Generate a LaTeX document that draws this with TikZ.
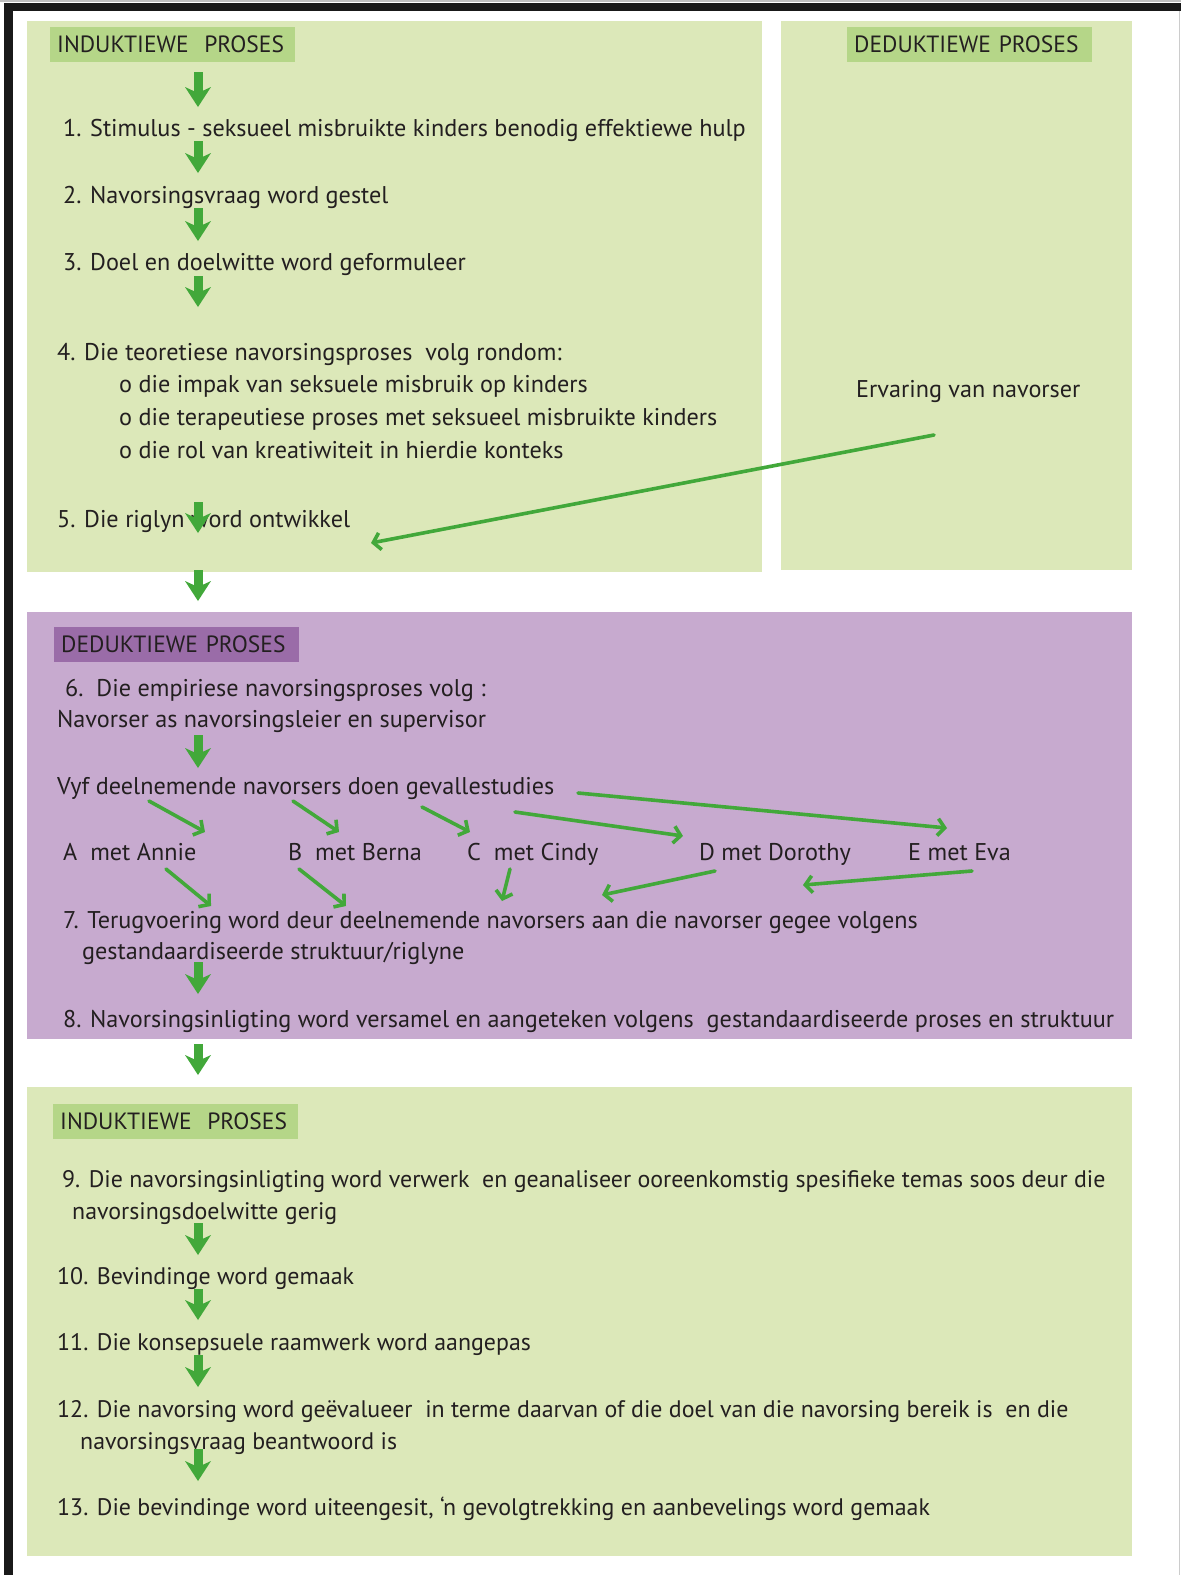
\documentclass[tikz,border=0pt]{standalone}
\usepackage{fontspec}
\setmainfont{PT Sans}
\usetikzlibrary{arrows.meta}
\definecolor{panelgreen}{HTML}{DCE8B9}
\definecolor{hdrgreen}{HTML}{B5D688}
\definecolor{panelpurple}{HTML}{C7AACF}
\definecolor{hdrpurple}{HTML}{9A6CA8}
\definecolor{arrowgreen}{HTML}{42A83A}
\definecolor{inkdark}{HTML}{231F20}
\begin{document}
\begin{tikzpicture}[x=1pt,y=-1pt,
  txt/.style={anchor=base west, inner sep=0pt, text=inkdark, font=\fontsize{24.2}{28}\selectfont},
  txtb/.style={txt, font=\fontsize{23.9}{28}\selectfont},
  hdr/.style={anchor=north west, text width=231pt, inner xsep=7pt, inner ysep=0pt,
    minimum height=35pt, align=left, text=inkdark, font=\fontsize{23.5}{27}\selectfont},
  flow/.style={draw=arrowgreen, line width=9pt,
    -{Stealth[length=20pt,width=26pt,inset=6pt,line width=0pt]}},
  link/.style={draw=arrowgreen, line width=3.6pt, line cap=round,
    -{Straight Barb[length=7pt,width=17pt]}},
]
\useasboundingbox (0,0) rectangle (1181,1575);
\fill[white] (0,0) rectangle (1181,1575);

% outer frame
\fill[black!25] (0,0) rectangle (1181,2);
\fill[black!90] (4,3) rectangle (1181,11);
\fill[black!90] (4,3) rectangle (13,1575);
\fill[black!20] (1179,11) rectangle (1180,1575);

% panels
\fill[panelgreen] (27,21) rectangle (762,572);
\fill[panelgreen] (781,21) rectangle (1132,570);
\fill[panelpurple] (27,612) rectangle (1132,1039);
\fill[panelgreen] (27,1087) rectangle (1132,1556);

% headers
\node[hdr, fill=hdrgreen] (hInd1) at (50,27) {INDUKTIEWE\ \ PROSES};
\node[hdr, fill=hdrgreen] (hDed1) at (847,27) {DEDUKTIEWE PROSES};
\node[hdr, fill=hdrpurple] (hDed2) at (54,627) {DEDUKTIEWE PROSES};
\node[hdr, fill=hdrgreen] (hInd2) at (53,1104) {INDUKTIEWE\ \ PROSES};

% inductive part, theory
\node[txt] (s1) at (63,136) {1. Stimulus - seksueel misbruikte kinders benodig effektiewe hulp};
\node[txt] (s2) at (63,203) {2. Navorsingsvraag word gestel};
\node[txt] (s3) at (63,270) {3. Doel en doelwitte word geformuleer};
\node[txt] (s4) at (57,360) {4. Die teoretiese navorsingsproses\ \ volg rondom:};
\node[txt] (s4a) at (119,392) {o die impak van seksuele misbruik op kinders};
\node[txt] (s4b) at (119,425) {o die terapeutiese proses met seksueel misbruikte kinders};
\node[txt] (s4c) at (119,458) {o die rol van kreatiwiteit in hierdie konteks};
\node[txt] (s5) at (57,527) {5. Die riglyn word ontwikkel};
\node[txt] (erv) at (856,397) {Ervaring van navorser};

% deductive part, empirical
\node[txt] (s6) at (65,696) {6.\ \ Die empiriese navorsingsproses volg :};
\node[txt] (s6b) at (57,727) {Navorser as navorsingsleier en supervisor};
\node[txt] (vyf) at (57,794) {Vyf deelnemende navorsers doen gevallestudies};
\node[txt] (pA) at (63,860) {A\ \ met Annie};
\node[txt] (pB) at (288,860) {B\ \ met Berna};
\node[txt] (pC) at (467,860) {C\ \ met Cindy};
\node[txt] (pD) at (699,860) {D met Dorothy};
\node[txt] (pE) at (908,860) {E met Eva};
\node[txt] (s7) at (63,928) {7. Terugvoering word deur deelnemende navorsers aan die navorser gegee volgens};
\node[txt] (s7b) at (82,959) {gestandaardiseerde struktuur/riglyne};
\node[txt] (s8) at (63,1027) {8. Navorsingsinligting word versamel en aangeteken volgens\ \ gestandaardiseerde proses en struktuur};

% inductive part, analysis
\node[txtb] (s9) at (62,1187) {9. Die navorsingsinligting word verwerk\ \ en geanaliseer ooreenkomstig spesifieke temas soos deur die};
\node[txtb] (s9b) at (72,1219) {navorsingsdoelwitte gerig};
\node[txtb] (s10) at (57,1284) {10. Bevindinge word gemaak};
\node[txtb] (s11) at (57,1350) {11. Die konsepsuele raamwerk word aangepas};
\node[txtb] (s12) at (57,1417) {12. Die navorsing word geëvalueer\ \ in terme daarvan of die doel van die navorsing bereik is\ \ en die};
\node[txtb] (s12b) at (80,1449) {navorsingsvraag beantwoord is};
\node[txtb] (s13) at (57,1515) {13. Die bevindinge word uiteengesit, ‘n gevolgtrekking en aanbevelings word gemaak};

% main flow arrows
\foreach \n/\t/\b in {1/72/107, 2/141/173, 3/208/241, 4/276/307, 5/502/533, 6/570/601,
                      7/735/768, 8/962/994, 9/1044/1075, 10/1223/1255, 11/1289/1320,
                      12/1355/1387, 13/1449/1481}{
  \coordinate (f\n a) at (198,\t);
  \coordinate (f\n b) at (198,\b);
  \draw[flow] (f\n a) -- (f\n b);
}

% experience of the researcher feeds the guidelines
\coordinate (ervOut) at (934,435);
\coordinate (rigIn) at (371,543);
\draw[link] (ervOut) -- (rigIn);

% case studies
\coordinate (v1) at (149,801);  \coordinate (a1) at (205,832);
\coordinate (v2) at (293,801);  \coordinate (b1) at (339,832);
\coordinate (v3) at (422,807);  \coordinate (c1) at (470,832);
\coordinate (v4) at (515,812);  \coordinate (d1) at (683,836);
\coordinate (v5) at (578,793);  \coordinate (e1) at (947,828);
\draw[link] (v1) -- (a1);
\draw[link] (v2) -- (b1);
\draw[link] (v3) -- (c1);
\draw[link] (v4) -- (d1);
\draw[link] (v5) -- (e1);

% feedback to the researcher
\coordinate (a2) at (166,869);  \coordinate (t1) at (211,906);
\coordinate (b2) at (299,869);  \coordinate (t2) at (346,906);
\coordinate (c2) at (510,869);  \coordinate (t3) at (502,901);
\coordinate (d2) at (715,871);  \coordinate (t4) at (602,895);
\coordinate (e2) at (972,871);  \coordinate (t5) at (803,885);
\draw[link] (a2) -- (t1);
\draw[link] (b2) -- (t2);
\draw[link] (c2) -- (t3);
\draw[link] (d2) -- (t4);
\draw[link] (e2) -- (t5);
\end{tikzpicture}
\end{document}
